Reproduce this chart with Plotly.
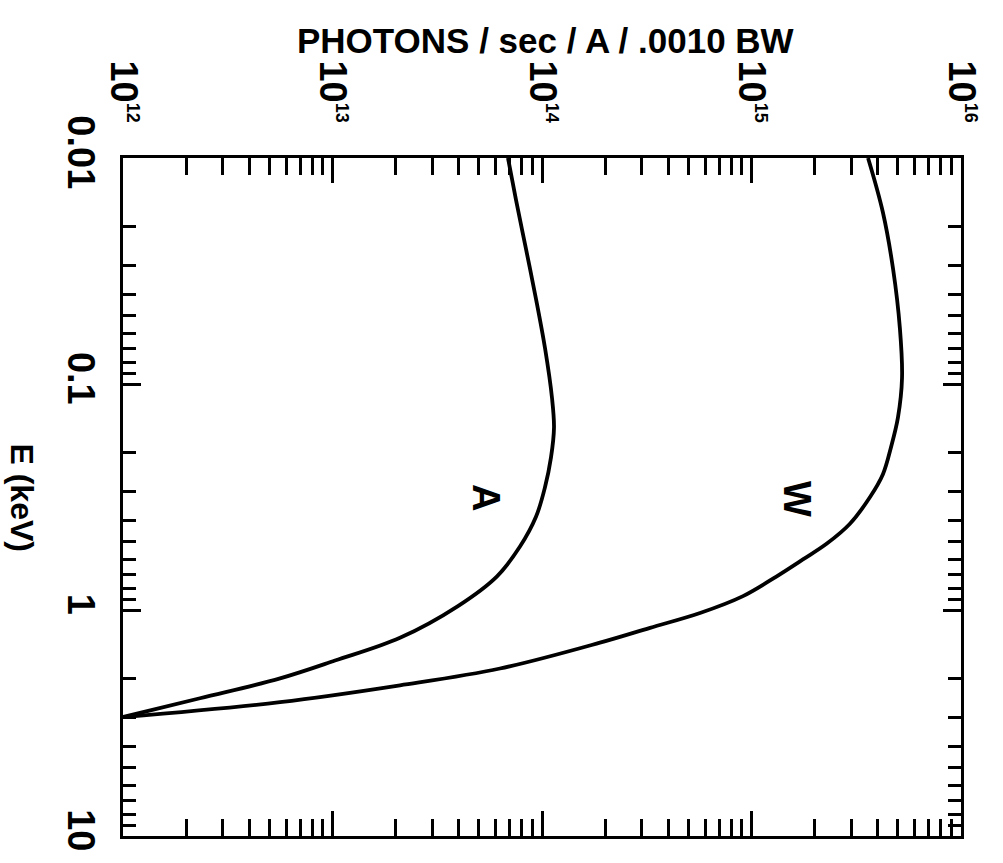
import plotly.graph_objects as go

# Curve A: energy (keV) vs photons / sec / A / .0010 BW
a_energy = [0.0100, 0.01528, 0.02532, 0.04196, 0.0695, 0.1152, 0.1560, 0.2112, 0.2858,
            0.3870, 0.5240, 0.7093, 0.9605, 1.327, 1.674, 2.007, 2.457, 2.977]
a_photons = [6.88e13, 7.51e13, 8.39e13, 9.36e13, 1.034e14, 1.116e14, 1.141e14, 1.104e14, 1.034e14,
             9.36e13, 7.85e13, 6.10e13, 3.97e13, 2.10e13, 1.028e13, 5.62e12, 2.33e12, 1.0e12]

# Curve W
w_energy = [0.0100, 0.01743, 0.03099, 0.05680, 0.09412, 0.1409, 0.1908, 0.2506, 0.3162,
            0.4153, 0.5083, 0.5975, 0.7093, 0.8681, 1.031, 1.199, 1.395, 1.815, 2.154, 2.558, 2.977]
w_photons = [3.60e15, 4.24e15, 4.74e15, 5.11e15, 5.23e15, 5.00e15, 4.63e15, 4.24e15, 3.68e15,
             2.95e15, 2.29e15, 1.76e15, 1.32e15, 9.11e14, 5.68e14, 3.28e14, 1.89e14, 6.30e13,
             2.10e13, 5.62e12, 1.0e12]

x_tickvals = [1e12, 1e13, 1e14, 1e15, 1e16]
x_exponents = ["12", "13", "14", "15", "16"]
y_tickvals = [0.01, 0.1, 1, 10]
y_ticktext = ["0.01", "0.1", "1", "10"]

x_ticktext = ["10<sup><span style='font-size:18px'>%s</span></sup>" % e for e in x_exponents]
x_minor = [k * 10 ** n for n in range(12, 16) for k in range(2, 10)]
y_minor = [k * 10.0 ** n for n in range(-2, 1) for k in range(2, 10)]

FONT = "Liberation Sans, Arial, Helvetica, sans-serif"

fig = go.Figure()
for xs, ys in ((a_photons, a_energy), (w_photons, w_energy)):
    fig.add_trace(go.Scatter(x=xs, y=ys, mode="lines",
                             line=dict(color="black", width=3.8, shape="spline", smoothing=1.0),
                             showlegend=False))

fig.update_layout(
    width=1003, height=863, autosize=False,
    margin=dict(l=123, r=42, t=158, b=20),
    paper_bgcolor="white", plot_bgcolor="white",
    font=dict(family=FONT, color="black"),
    xaxis=dict(
        type="log", range=[12, 16], side="top",
        showgrid=False, zeroline=False,
        showline=True, linecolor="black", linewidth=3, mirror="ticks",
        ticks="inside", ticklen=25, tickwidth=3, tickcolor="black",
        tickvals=x_tickvals, ticktext=x_ticktext, tickangle=90,
        tickfont=dict(size=38, family=FONT, color="black", weight="bold"),
        ticklabelstandoff=19,
        minor=dict(ticks="inside", ticklen=17, tickwidth=2.5, tickcolor="black",
                   tickvals=x_minor, showgrid=False),
    ),
    yaxis=dict(
        type="log", range=[1, -2],
        showgrid=False, zeroline=False,
        showline=True, linecolor="black", linewidth=3, mirror="ticks",
        ticks="inside", ticklen=18, tickwidth=3, tickcolor="black",
        tickvals=y_tickvals, ticktext=y_ticktext, tickangle=90,
        tickfont=dict(size=38, family=FONT, color="black", weight="bold"),
        ticklabelstandoff=6,
        minor=dict(ticks="inside", ticklen=13, tickwidth=2.5, tickcolor="black",
                   tickvals=y_minor, showgrid=False),
    ),
    annotations=[
        dict(text="PHOTONS / sec / A / .0010 BW", xref="paper", yref="paper",
             x=0.5036, y=1, yshift=118, xanchor="center", yanchor="middle",
             showarrow=False, font=dict(size=35, family=FONT, color="black", weight="bold")),
        dict(text="E (keV)", xref="paper", yref="paper",
             x=-0.1205, y=0.4993, xanchor="center", yanchor="middle", textangle=90,
             showarrow=False, font=dict(size=32, family=FONT, color="black", weight="bold")),
        dict(text="A", x=13.733, y=-0.5, xref="x", yref="y", textangle=90,
             showarrow=False, font=dict(size=38, family=FONT, color="black", weight="bold")),
        dict(text="W", x=15.217, y=-0.491, xref="x", yref="y", textangle=90,
             showarrow=False, font=dict(size=38, family=FONT, color="black", weight="bold")),
    ],
)

fig.write_html("out.html")
